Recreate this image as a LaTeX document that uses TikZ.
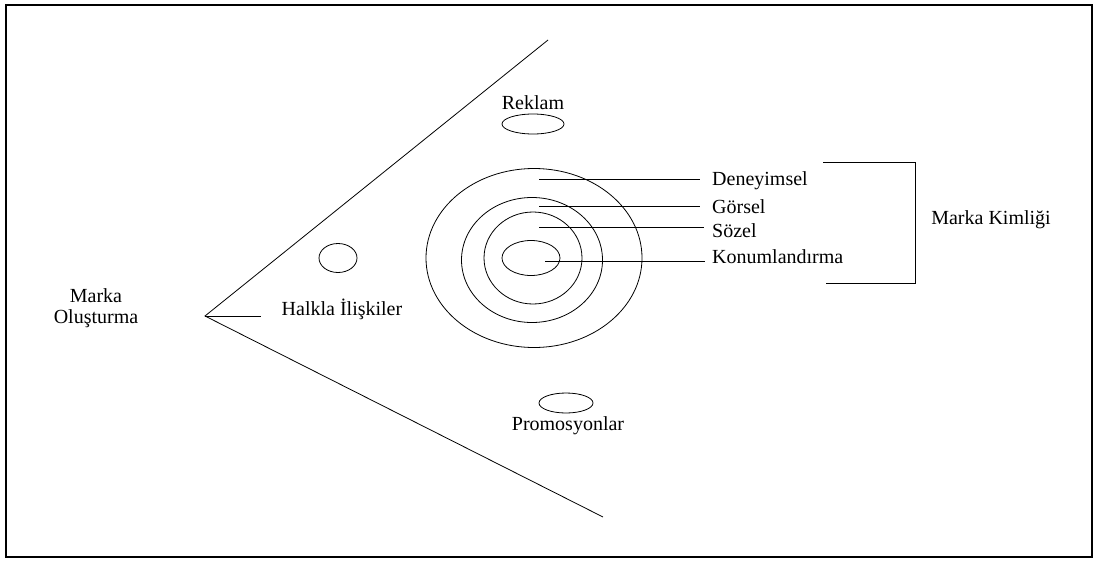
\documentclass[tikz,border=0pt]{standalone}
\usepackage{fontspec}
\setmainfont{Liberation Serif}
\usetikzlibrary{shapes.geometric}
\begin{document}
\begin{tikzpicture}[
  x=1pt, y=-1pt,
  font=\fontsize{20}{21}\selectfont,
  lbl/.style={inner sep=0pt, align=center},
  tag/.style={inner sep=0pt, anchor=west},
  oval/.style={draw, ellipse, inner sep=0pt, line width=0.8pt},
  thin/.style={line width=0.8pt}
]
  \useasboundingbox (0,0) rectangle (1097,560);
  \draw[line width=2.4pt] (6,5) rectangle (1092,557);

  % ================= WEDGE =================
  \coordinate (apex) at (205,316);
  \coordinate (topend) at (548,40);
  \coordinate (botend) at (603,517);
  \coordinate (midend) at (261,316);
  \draw[thin] (topend) -- (apex) -- (botend);
  \draw[thin] (apex) -- (midend);

  \node[lbl] (olus) at (96,308) {Marka\\Oluşturma};

  % ================= CHANNELS =================
  \node[lbl] (reklam) at (533,103) {Reklam};
  \node[oval, minimum width=62pt, minimum height=20pt] (reklamoval) at (533,124) {};

  \node[oval, minimum width=38pt, minimum height=29pt] (halkoval) at (338,258) {};
  \node[lbl] (halkla) at (342,309) {Halkla İlişkiler};

  \node[oval, minimum width=54pt, minimum height=20pt] (promooval) at (566,403) {};
  \node[lbl] (promo) at (568,426) {Promosyonlar};

  % ================= RINGS =================
  \node[oval, minimum width=216pt, minimum height=179pt] (ring1) at (534,258) {};
  \node[oval, minimum width=141pt, minimum height=125pt] (ring2) at (532,260) {};
  \node[oval, minimum width=98pt, minimum height=92pt] (ring3) at (533,258) {};
  \node[oval, minimum width=58pt, minimum height=35pt] (ring4) at (531,258) {};

  \coordinate (p1) at (539,179);
  \coordinate (p2) at (539,206);
  \coordinate (p3) at (539,227);
  \coordinate (p4) at (545,261);

  \node[tag] (deney) at (712,181) {Deneyimsel};
  \node[tag] (gorsel) at (712,207) {Görsel};
  \node[tag] (sozel) at (712,231) {Sözel};
  \node[tag] (konum) at (712,257) {Konumlandırma};

  \draw[thin] (p1) -- ([xshift=-12pt]p1 -| deney.west);
  \draw[thin] (p2) -- ([xshift=-12pt]p2 -| gorsel.west);
  \draw[thin] (p3) -- ([xshift=-8pt]p3 -| sozel.west);
  \draw[thin] (p4) -- ([xshift=-7pt]p4 -| konum.west);

  % ================= BRACKET =================
  \coordinate (bt) at (823,162);
  \coordinate (btr) at (915,162);
  \coordinate (bbr) at (915,283);
  \coordinate (bb) at (826,283);
  \draw[thin] (bt) -- (btr) -- (bbr) -- (bb);

  \node[lbl] (kimlik) at (991,220) {Marka Kimliği};
\end{tikzpicture}
\end{document}
